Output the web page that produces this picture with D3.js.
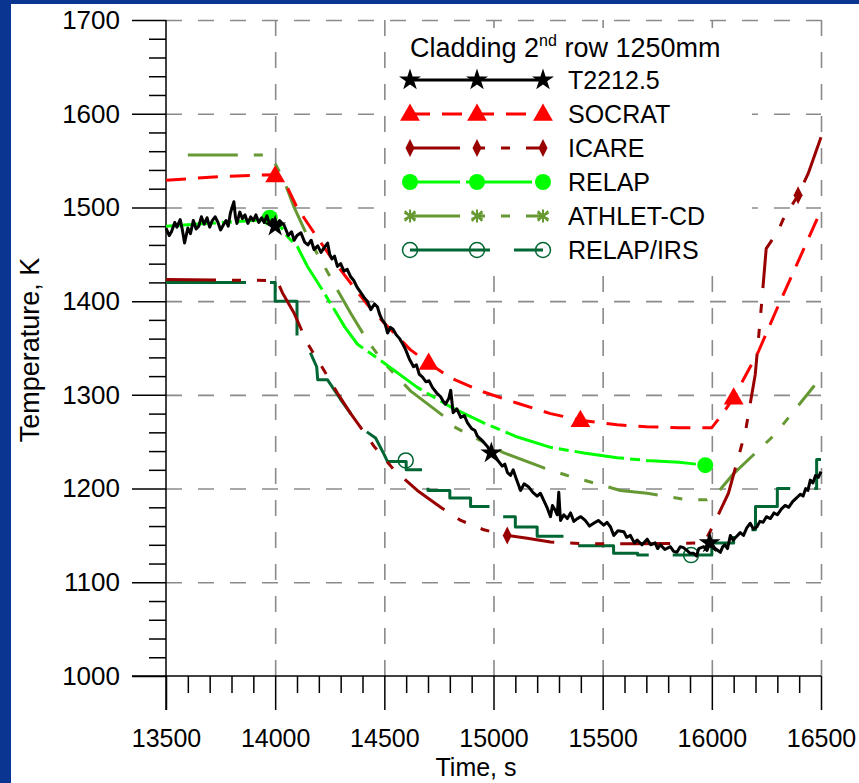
<!DOCTYPE html>
<html>
<head>
<meta charset="utf-8">
<script src="https://cdn.jsdelivr.net/npm/d3@7"></script>
<style>
  body { margin: 0; background: #0a3591; }
  text { font-family: "Liberation Sans", Arial, sans-serif; fill: #000; }
</style>
</head>
<body>
<div id="my_dataviz"></div>
<script>
// axis ticks
const xTicks = [13500, 14000, 14500, 15000, 15500, 16000, 16500];
const yTicks = [1000, 1100, 1200, 1300, 1400, 1500, 1600, 1700];

// legend names
const seriesNames = ["T2212.5", "SOCRAT", "ICARE", "RELAP", "ATHLET-CD", "RELAP/IRS"];

// T2212.5 measurement (time s, temperature K)
const t2212 = [[13500,1478],[13515,1470],[13525,1474],[13540,1484],[13550,1479],[13565,1487],[13575,1476],
  [13585,1462],[13600,1478],[13612,1472],[13625,1486],[13638,1477],[13650,1480],[13662,1490],[13675,1482],
  [13688,1489],[13700,1479],[13712,1486],[13725,1490],[13738,1484],[13750,1476],[13762,1481],[13775,1486],
  [13785,1480],[13795,1494],[13811,1506],[13818,1490],[13825,1483],[13838,1495],[13850,1488],[13862,1492],
  [13875,1483],[13888,1490],[13900,1486],[13912,1492],[13925,1484],[13938,1489],[13950,1484],[13962,1491],
  [13975,1482],[13988,1487],[14000,1480],[14020,1486],[14041,1481],[14060,1470],[14075,1474],[14087,1465],
  [14100,1470],[14118,1473],[14135,1463],[14150,1460],[14165,1465],[14178,1455],[14195,1459],[14210,1452],
  [14225,1457],[14240,1462],[14250,1450],[14260,1445],[14272,1448],[14285,1437],[14300,1440],[14315,1432],
  [14330,1434],[14346,1426],[14360,1422],[14375,1415],[14390,1410],[14407,1404],[14422,1400],[14438,1391],
  [14455,1397],[14468,1394],[14480,1385],[14490,1380],[14503,1376],[14515,1366],[14528,1372],[14540,1370],
  [14555,1364],[14570,1360],[14585,1354],[14598,1348],[14615,1338],[14634,1330],[14647,1332],[14660,1322],
  [14675,1319],[14690,1314],[14705,1315],[14720,1308],[14740,1302],[14758,1298],[14770,1293],[14780,1290],
  [14795,1296],[14804,1305],[14815,1281],[14832,1285],[14850,1276],[14866,1278],[14881,1270],[14900,1264],
  [14915,1262],[14926,1256],[14945,1252],[14960,1248],[14975,1244],[14987,1238],[15005,1236],[15020,1230],
  [15040,1224],[15052,1226],[15064,1217],[15078,1214],[15090,1220],[15105,1210],[15124,1198],[15140,1205],
  [15160,1202],[15180,1196],[15200,1192],[15215,1195],[15229,1188],[15245,1180],[15261,1170],[15270,1182],
  [15280,1178],[15292,1172],[15299,1196],[15303,1180],[15307,1166],[15322,1172],[15338,1168],[15353,1174],
  [15368,1165],[15384,1168],[15400,1170],[15420,1166],[15440,1160],[15459,1163],[15480,1166],[15505,1161],
  [15520,1164],[15536,1159],[15551,1150],[15570,1155],[15597,1154],[15610,1148],[15627,1150],[15645,1142],
  [15658,1145],[15680,1140],[15704,1146],[15720,1140],[15740,1142],[15752,1136],[15764,1140],[15785,1135],
  [15810,1138],[15825,1133],[15840,1132],[15855,1138],[15870,1137],[15886,1134],[15900,1131],[15917,1131],
  [15930,1128],[15940,1136],[15963,1138],[15978,1134],[15993,1143],[16015,1136],[16039,1132],[16050,1138],
  [16060,1140],[16072,1136],[16085,1150],[16097,1145],[16110,1148],[16130,1153],[16145,1150],[16160,1158],
  [16176,1163],[16190,1157],[16206,1159],[16220,1165],[16235,1164],[16250,1170],[16268,1168],[16285,1174],
  [16300,1172],[16318,1178],[16336,1182],[16352,1180],[16370,1186],[16388,1190],[16405,1194],[16418,1192],
  [16430,1200],[16440,1198],[16451,1209],[16463,1206],[16475,1214],[16488,1212],[16500,1218]];
const t2212Marks = [[14000,1480],[14990,1238],[15990,1142]];

// SOCRAT
const socrat = [[13500,1529],[13750,1533],[14000,1535],[14050,1524],[14100,1500],[14178,1473],[14255,1447],
  [14350,1418],[14420,1397],[14498,1377],[14620,1348],[14703,1334],[14804,1318],[14955,1303],[15110,1291],
  [15261,1280],[15398,1273],[15566,1268],[15700,1266],[15850,1265],[16000,1265],[16050,1280],[16100,1297],
  [16213,1346],[16304,1395],[16414,1452],[16500,1497]];
const socratMarks = [[14000,1534],[14703,1334],[15398,1273],[16100,1297]];

// ICARE
const icare = [[13500,1423],[14000,1422],[14018,1417],[14033,1409],[14087,1387],[14148,1355],[14224,1326],
  [14285,1302],[14346,1280],[14453,1245],[14544,1220],[14651,1198],[14758,1180],[14850,1166],[14956,1156],
  [15063,1150],[15155,1147],[15261,1143],[15414,1141],[15658,1141],[15965,1142],[16007,1161],[16076,1195],
  [16154,1261],[16199,1322],[16227,1395],[16249,1456],[16304,1475],[16326,1487],[16395,1513],[16441,1536],
  [16500,1575]];
const icareMarks = [[15063,1150],[16395,1513]];

// RELAP
const relap = [[13500,1480],[13700,1483],[13900,1486],[13990,1488],[14030,1478],[14056,1469],[14102,1458],
  [14148,1437],[14224,1409],[14320,1372],[14377,1354],[14499,1334],[14651,1308],[14804,1287],[14955,1270],
  [15110,1255],[15261,1244],[15414,1238],[15566,1233],[15700,1230],[15850,1228],[15970,1225]];
const relapMarks = [[13975,1489],[15970,1225]];

// ATHLET-CD
const athlet = [[13600,1556],[13950,1556],[13990,1551],[14040,1529],[14087,1500],[14148,1469],[14209,1444],
  [14285,1412],[14346,1387],[14422,1358],[14499,1334],[14621,1304],[14773,1277],[14819,1266],[15048,1238],
  [15231,1222],[15338,1214],[15581,1198],[15704,1195],[15886,1188],[15978,1188],[16024,1195],[16100,1216],
  [16290,1258],[16470,1310]];

// RELAP/IRS
const irs = [[13500,1420],[14000,1420],[14000,1400],[14100,1400],[14100,1360],[14140,1356],[14190,1330],
  [14195,1316],[14240,1316],[14300,1295],[14392,1265],[14460,1254],[14500,1236],[14514,1229],[14600,1229],
  [14600,1220],[14700,1220],[14700,1198],[14800,1198],[14800,1190],[14895,1190],[14895,1181],[15000,1181],
  [15000,1170],[15100,1170],[15100,1159],[15200,1159],[15200,1149],[15350,1149],[15350,1139],[15550,1139],
  [15550,1131],[15660,1131],[15660,1129],[16000,1129],[16000,1142],[16100,1142],[16100,1156],[16200,1156],
  [16200,1181],[16300,1181],[16300,1200],[16480,1200],[16480,1231],[16500,1231]];
const irsMarks = [[14598,1230],[15905,1129]];

const W = 859, H = 783;
const margin = { top: 20, right: 38, bottom: 107, left: 166 },
  width = W - margin.left - margin.right,
  height = H - margin.top - margin.bottom;

const root = d3.select("#my_dataviz").append("svg")
  .attr("width", W).attr("height", H);

// blue frame and white panel
root.append("rect").attr("width", W).attr("height", H).attr("fill", "#0a3591");
root.append("rect").attr("x", 11).attr("y", 4).attr("width", W - 11).attr("height", H - 4).attr("fill", "#fff");

const svg = root.append("g").attr("transform", `translate(${margin.left},${margin.top})`);

const x = d3.scaleLinear().domain([13500, 16500]).range([0, width]);
const y = d3.scaleLinear().domain([1000, 1700]).range([height, 0]);

// grid
svg.append("g")
  .call(d3.axisLeft(y).tickValues(yTicks.slice(1)).tickSize(-width).tickFormat(""))
  .call(g => g.select(".domain").remove())
  .selectAll("line").attr("stroke", "#8a8a8a").attr("stroke-width", 1.6).attr("stroke-dasharray", "16,16");
svg.append("g")
  .attr("transform", `translate(0,${height})`)
  .call(d3.axisBottom(x).tickValues(xTicks.slice(1)).tickSize(height).tickFormat(""))
  .call(g => g.select(".domain").remove())
  .selectAll("line").attr("y2", -height).attr("stroke", "#8a8a8a").attr("stroke-width", 1.6)
  .attr("stroke-dasharray", "16,16");

// legend box (covers the grid)
svg.append("rect").attr("x", 222).attr("y", 8).attr("width", 364).attr("height", 234).attr("fill", "#fff");

// minor ticks
svg.append("g")
  .attr("transform", `translate(0,${height})`)
  .call(d3.axisBottom(x).tickValues(d3.range(13500, 16501, 100).filter(v => v % 500 !== 0)).tickSize(17).tickFormat(""))
  .call(g => g.select(".domain").remove())
  .selectAll("line").attr("stroke", "#000").attr("stroke-width", 1.5);
svg.append("g")
  .call(d3.axisLeft(y).tickValues(d3.range(1000, 1701, 20).filter(v => v % 100 !== 0)).tickSize(17).tickFormat(""))
  .call(g => g.select(".domain").remove())
  .selectAll("line").attr("stroke", "#000").attr("stroke-width", 1.5);

// X axis
const xAxis = svg.append("g")
  .attr("transform", `translate(0,${height})`)
  .call(d3.axisBottom(x).tickValues(xTicks).tickSize(34).tickSizeOuter(0).tickFormat(d3.format("d")));
xAxis.select(".domain").attr("d", `M-34,0H${width}`).attr("stroke-width", 1.5);
xAxis.selectAll("line").attr("stroke-width", 1.5);
xAxis.selectAll("text").attr("y", 71).attr("dy", 0).style("font-size", "25px")
  .style("font-family", "Liberation Sans, Arial, sans-serif");

// Y axis
const yAxis = svg.append("g")
  .call(d3.axisLeft(y).tickValues(yTicks).tickSize(34).tickSizeOuter(0).tickPadding(12)
    .tickFormat(d3.format("d")));
yAxis.select(".domain").attr("d", `M0,0V${height + 34}`).attr("stroke-width", 1.5);
yAxis.selectAll("line").attr("stroke-width", 1.5);
yAxis.selectAll("text").style("font-size", "26px")
  .style("font-family", "Liberation Sans, Arial, sans-serif");

// axis titles
root.append("text").attr("x", 476).attr("y", 776).attr("text-anchor", "middle")
  .style("font-size", "25px").text("Time, s");
root.append("text").attr("transform", "translate(39,350) rotate(-90)").attr("text-anchor", "middle")
  .style("font-size", "27px").text("Temperature, K");

// series styles
const styles = [
  { data: t2212, marks: t2212Marks, color: "#000000", dash: null, w: 3, sym: "star" },
  { data: socrat, marks: socratMarks, color: "#ff0000", dash: "20,12", w: 3, sym: "tri" },
  { data: icare, marks: icareMarks, color: "#990000", dash: "50,16,9,16,9,16", w: 3, sym: "dia" },
  { data: relap, marks: relapMarks, color: "#00ff00", dash: "50,6,10,6", w: 3, sym: "dot" },
  { data: athlet, marks: [], color: "#669933", dash: "50,16,9,16,9,16", w: 3, sym: "ast" },
  { data: irs, marks: irsMarks, color: "#006633", dash: "80,24", w: 3, sym: "ring" }
];

const line = d3.line().x(d => x(d[0])).y(d => y(d[1]));

function marker(g, sym, color, px, py) {
  if (sym === "star") {
    g.append("path").attr("d", d3.symbol(d3.symbolStar, 150)()).attr("transform", `translate(${px},${py})`)
      .attr("fill", color);
  } else if (sym === "tri") {
    g.append("path").attr("d", d3.symbol(d3.symbolTriangle, 170)()).attr("transform", `translate(${px},${py + 1})`)
      .attr("fill", color);
  } else if (sym === "dia") {
    g.append("path").attr("d", "M0,-9L4.5,0L0,9L-4.5,0Z").attr("transform", `translate(${px},${py})`)
      .attr("fill", color);
  } else if (sym === "dot") {
    g.append("circle").attr("cx", px).attr("cy", py).attr("r", 8).attr("fill", color);
  } else if (sym === "ast") {
    g.append("path").attr("d", d3.symbol(d3.symbolAsterisk, 120)()).attr("transform", `translate(${px},${py})`)
      .attr("fill", "none").attr("stroke", color).attr("stroke-width", 2);
    g.append("path").attr("d", d3.symbol(d3.symbolTimes, 70)()).attr("transform", `translate(${px},${py})`)
      .attr("fill", "none").attr("stroke", color).attr("stroke-width", 2);
  } else if (sym === "ring") {
    g.append("circle").attr("cx", px).attr("cy", py).attr("r", 7.5).attr("fill", "none")
      .attr("stroke", color).attr("stroke-width", 1.5);
  }
}

// draw series, back to front so the measurement stays on top
const plot = svg.append("g");
[5, 4, 3, 2, 1, 0].forEach(i => {
  const s = styles[i];
  plot.append("path").datum(s.data)
    .attr("d", line)
    .attr("fill", "none")
    .attr("stroke", s.color)
    .attr("stroke-width", s.w)
    .attr("stroke-linejoin", "round")
    .attr("stroke-dasharray", s.dash);
  s.marks.forEach(m => marker(plot, s.sym, s.color, x(m[0]), y(m[1])));
});

// legend
const legend = root.append("g");
const title = legend.append("text").attr("x", 410).attr("y", 57).style("font-size", "27px");
title.append("tspan").text("Cladding 2");
title.append("tspan").attr("dy", -11).style("font-size", "16px").text("nd");
title.append("tspan").attr("dy", 11).text(" row 1250mm");

const rowY = [80, 114, 148, 182, 216, 250];
styles.forEach((s, i) => {
  const ly = rowY[i];
  legend.append("line").attr("x1", 410).attr("x2", 543).attr("y1", ly).attr("y2", ly)
    .attr("stroke", s.color).attr("stroke-width", s.w)
    .attr("stroke-dasharray", s.dash);
  [410, 477, 543].forEach(mx => marker(legend, s.sym, s.color, mx, ly));
  legend.append("text").attr("x", 568).attr("y", ly).attr("dy", "0.36em")
    .style("font-size", "25px").text(seriesNames[i]);
});
</script>
</body>
</html>
